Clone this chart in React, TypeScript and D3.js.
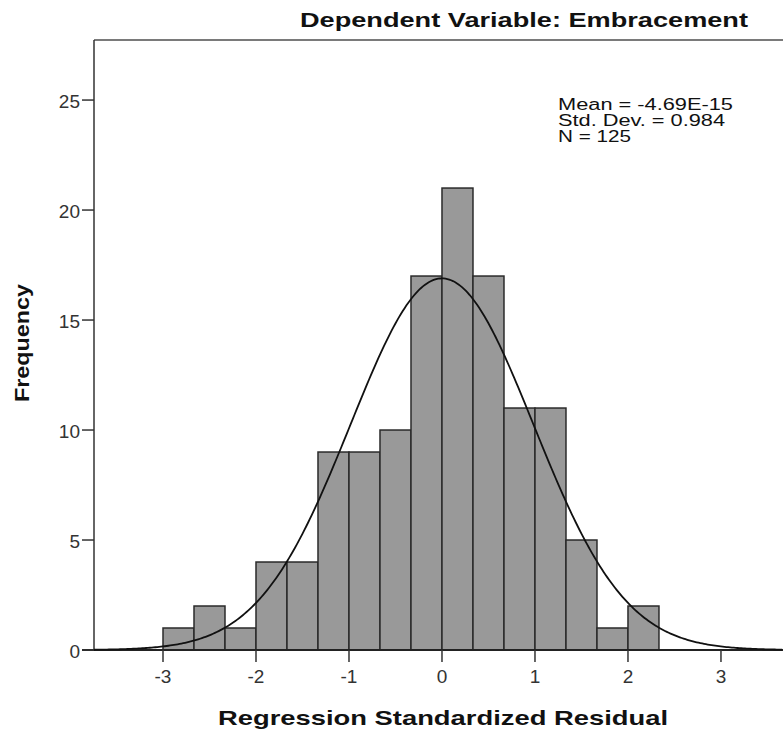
import { useMemo } from 'react';
import * as d3 from 'd3';

// histogram of regression standardized residuals with fitted normal curve
const WIDTH = 783;
const HEIGHT = 730;
const PLOT = { left: 94, right: 783, top: 40, bottom: 650 };

const binCounts = [1, 2, 1, 4, 4, 9, 9, 10, 17, 21, 17, 11, 11, 5, 1, 2];
const BIN_START = -3;
const BIN_WIDTH = 1 / 3;

const xTicks = [-3, -2, -1, 0, 1, 2, 3];
const yTicks = [0, 5, 10, 15, 20, 25];

const statLabels = ['Mean = -4.69E-15', 'Std. Dev. = 0.984', 'N = 125'];
const statWidths = [175, 167, 73];
const MEAN = -4.69e-15;
const SD = 0.984;
const N = 125;

const FONT = '"Liberation Sans", Arial, sans-serif';

export default function App() {
  const x = useMemo(
    () => d3.scaleLinear().domain([-3.742, 3.667]).range([PLOT.left, PLOT.right]),
    []
  );
  const y = useMemo(
    () => d3.scaleLinear().domain([0, 27.73]).range([PLOT.bottom, PLOT.top]),
    []
  );

  const bins = binCounts.map((count, i) => {
    const x0 = BIN_START + i * BIN_WIDTH;
    return { x0, x1: x0 + BIN_WIDTH, count };
  });

  // fitted normal curve, scaled to counts per bin
  const curve = useMemo(() => {
    const [lo, hi] = x.domain();
    const pts = d3.range(lo, hi + 0.001, 0.02).map((v) => {
      const z = (v - MEAN) / SD;
      const dens = Math.exp(-0.5 * z * z) / (SD * Math.sqrt(2 * Math.PI));
      return [v, dens * N * BIN_WIDTH] as [number, number];
    });
    return d3
      .line<[number, number]>()
      .x((d) => x(d[0]))
      .y((d) => y(d[1]))(pts);
  }, [x, y]);

  return (
    <svg
      width={WIDTH}
      height={HEIGHT}
      style={{ display: 'block', position: 'absolute', left: 0, top: 0, background: '#fff' }}
      fontFamily={FONT}
    >
      <rect width={WIDTH} height={HEIGHT} fill="#fff" />

      {/* frame */}
      <line x1={PLOT.left} x2={PLOT.right} y1={PLOT.top} y2={PLOT.top} stroke="#7a7a7a" strokeWidth={2} />
      <line x1={PLOT.left} x2={PLOT.left} y1={PLOT.top} y2={PLOT.bottom} stroke="#333" strokeWidth={1.5} />

      {/* bars */}
      {bins.map((b) => (
        <rect
          key={b.x0}
          x={x(b.x0)}
          y={y(b.count)}
          width={x(b.x1) - x(b.x0)}
          height={y(0) - y(b.count)}
          fill="#999999"
          stroke="#2a2a2a"
          strokeWidth={1.5}
        />
      ))}

      {/* x axis */}
      <line x1={PLOT.left - 12} x2={PLOT.right} y1={PLOT.bottom} y2={PLOT.bottom} stroke="#222" strokeWidth={2} />
      {xTicks.map((t) => (
        <g key={t}>
          <line x1={x(t)} x2={x(t)} y1={PLOT.bottom} y2={PLOT.bottom + 12} stroke="#333" strokeWidth={1.5} />
          <text x={x(t)} y={683} textAnchor="middle" fontSize={19} fill="#333">
            {t}
          </text>
        </g>
      ))}

      {/* y axis ticks */}
      {yTicks.map((t) => (
        <g key={t}>
          <line x1={PLOT.left - 12} x2={PLOT.left} y1={y(t)} y2={y(t)} stroke="#333" strokeWidth={1.5} />
          <text x={80} y={y(t)} dy="0.4em" textAnchor="end" fontSize={19} fill="#333">
            {t}
          </text>
        </g>
      ))}

      {/* normal curve */}
      <path d={curve ?? ''} fill="none" stroke="#111" strokeWidth={1.8} />

      {/* stats */}
      {statLabels.map((s, i) => (
        <text
          key={s}
          x={558}
          y={110 + i * 16}
          fontSize={16}
          fill="#111"
          textLength={statWidths[i]}
          lengthAdjust="spacingAndGlyphs"
        >
          {s}
        </text>
      ))}

      {/* titles */}
      <text
        x={300}
        y={27}
        fontSize={21}
        fontWeight="bold"
        fill="#111"
        textLength={448}
        lengthAdjust="spacingAndGlyphs"
      >
        Dependent Variable: Embracement
      </text>
      <text
        transform="translate(29,343) rotate(-90)"
        textAnchor="middle"
        fontSize={21}
        fontWeight="bold"
        fill="#111"
        textLength={118}
        lengthAdjust="spacingAndGlyphs"
      >
        Frequency
      </text>
      <text
        x={218}
        y={725}
        fontSize={21}
        fontWeight="bold"
        fill="#111"
        textLength={450}
        lengthAdjust="spacingAndGlyphs"
      >
        Regression Standardized Residual
      </text>
    </svg>
  );
}
